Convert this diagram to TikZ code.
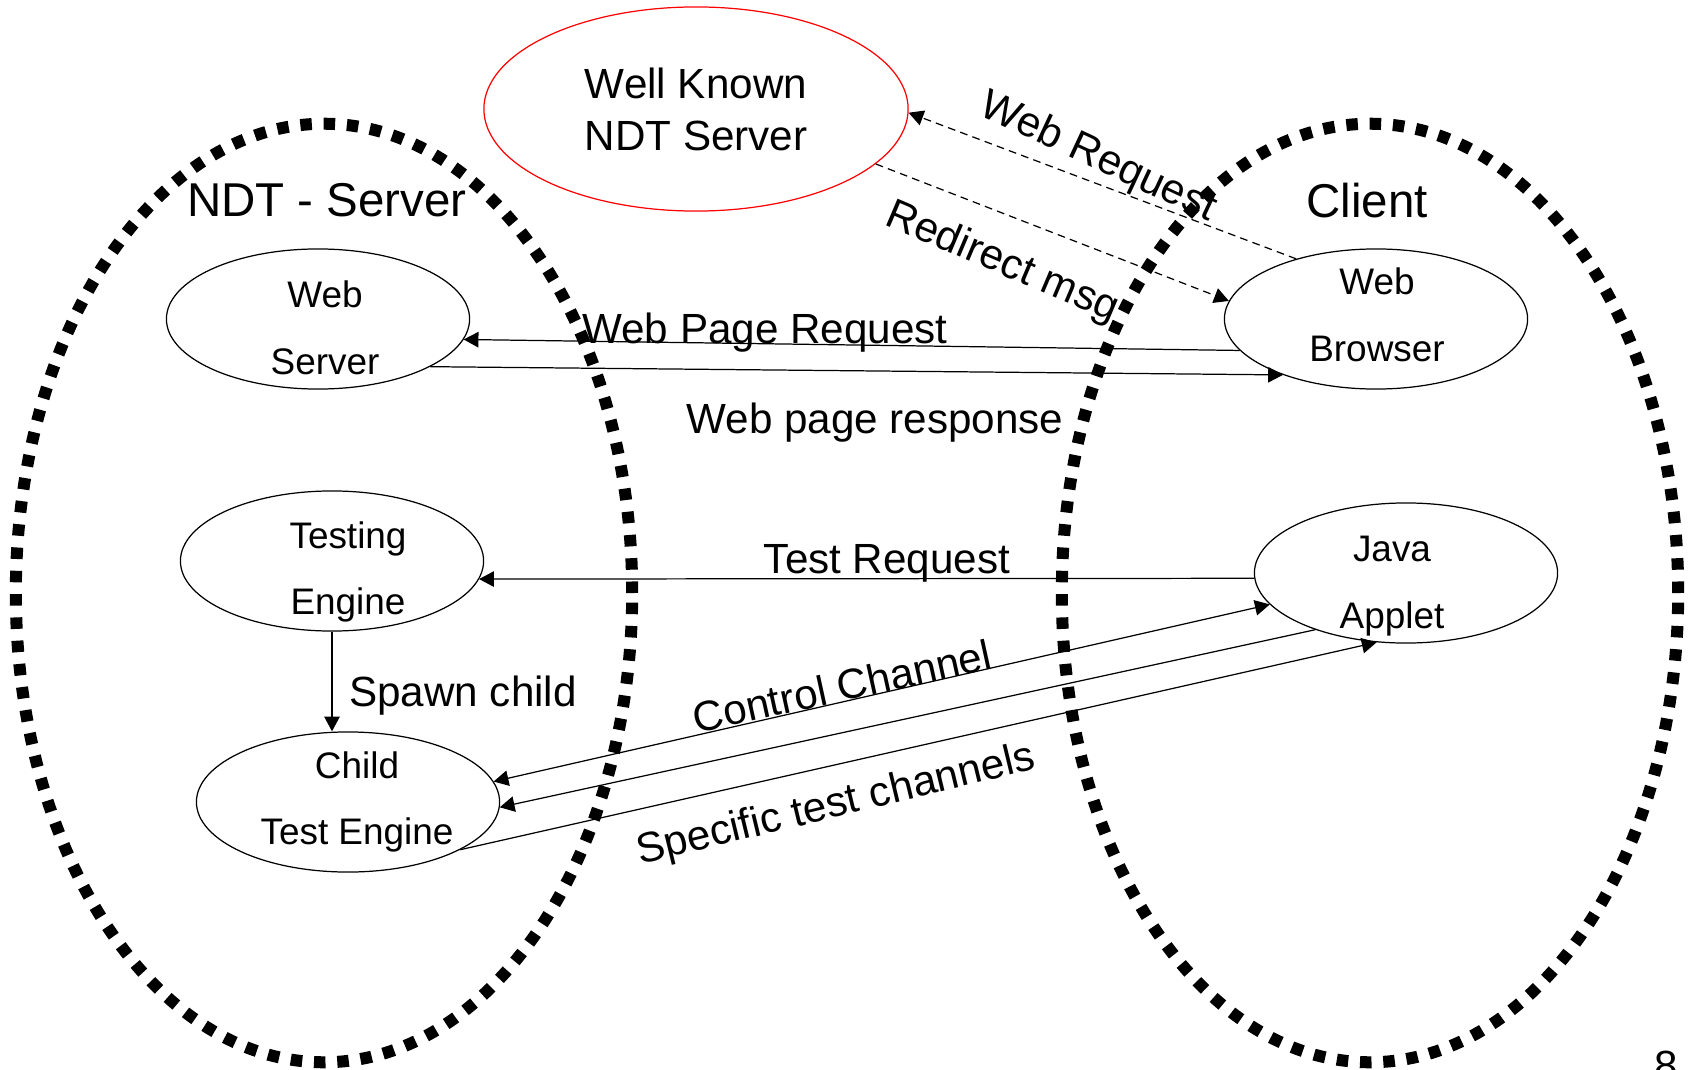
\documentclass[tikz,border=0pt]{standalone}
\usepackage{fontspec}
\setmainfont{Liberation Sans}
\usetikzlibrary{shapes, arrows.meta, positioning, calc}

\begin{document}
\begin{tikzpicture}[x=0.01cm, y=-0.01cm,
  >={Triangle[length=4.2pt, width=4.4pt]},
  zone/.style={draw, ellipse, line width=0.12cm, dash pattern=on 0.115cm off 0.118cm, minimum width=6.16cm, minimum height=9.38cm, inner sep=0pt},
  proc/.style={draw, ellipse, line width=0.35pt, minimum width=3.03cm, minimum height=1.40cm, inner sep=0pt},
  proctext/.style={inner sep=0pt, align=center, font=\fontsize{10.5}{19}\selectfont},
  msg/.style={line width=0.35pt, ->},
  msgdash/.style={msg, dash pattern=on 2.2pt off 1.5pt},
  lbl/.style={inner sep=0pt, font=\fontsize{12}{14}\selectfont},
  zonetitle/.style={inner sep=0pt, anchor=base, font=\fontsize{13.5}{16}\selectfont}]
  \useasboundingbox (0,0) rectangle (1694,1070);

  % Regions
  \node[zone] (srvzone) at (324, 593) {};
  \node[zone] (cltzone) at (1370, 593) {};
  \node[zonetitle] (srvtitle) at (327, 217) {NDT - Server};
  \node[zonetitle] (clttitle) at (1367, 218) {Client};

  % Well known server
  \node[draw=red, ellipse, line width=0.35pt, minimum width=4.24cm, minimum height=2.04cm, inner sep=0pt, align=center, font=\fontsize{12}{14.8}\selectfont] (wellknown) at (696, 109) {Well Known\\NDT Server};

  % Server side
  \node[proc] (websrv) at (318, 319) {};
  \node[proctext] (websrvtxt) at ([shift={(7,9)}]websrv.center) {Web\\Server};
  \node[proc] (testeng) at (332, 561) {};
  \node[proctext] (testengtxt) at ([shift={(16,11)}]testeng.center) {Testing\\Engine};
  \node[proc] (childeng) at (348, 802) {};
  \node[proctext] (childengtxt) at ([shift={(9,0)}]childeng.center) {Child\\Test Engine};

  % Client side
  \node[proc] (webbrw) at (1376, 319) {};
  \node[proctext] (webbrwtxt) at ([shift={(1,-4)}]webbrw.center) {Web\\Browser};
  \node[proc] (applet) at (1406, 573) {};
  \node[proctext] (applettxt) at ([shift={(-14,13)}]applet.center) {Java\\Applet};

  % Redirection
  \draw[msgdash] (webbrw.143) -- (wellknown.-1);
  \draw[msgdash] (wellknown.-17) -- (webbrw.173);
  \node[lbl, rotate=-25] (webreq) at (1098, 158) {Web Request};
  \node[lbl, rotate=-23] (redir) at (1002, 263) {Redirect msg};

  % Web page
  \draw[msg] (webbrw.193) -- (websrv.-8);
  \draw[msg] (websrv.-23) -- (webbrw.211);
  \node[lbl, anchor=base] (pagereq) at (765, 343) {Web Page Request};
  \node[lbl, anchor=base] (pageresp) at (875, 433) {Web page response};

  % Test
  \draw[msg] (applet.182) -- (testeng.-7);
  \node[lbl, anchor=base] (testreq) at (887, 573) {Test Request};
  \draw[msg] (testeng.south) -- (testeng.south |- childeng.north);
  \node[lbl, anchor=base] (spawn) at (463, 706) {Spawn child};

  % Channels
  \draw[msg, <->] (childeng.8) -- (applet.193);
  \draw[msg] (applet.212) -- (childeng.-2);
  \draw[msg] (childeng.-23) -- (applet.247);
  \node[lbl, rotate=12.4] (ctrl) at (842, 686) {Control Channel};
  \node[lbl, rotate=13.6] (spec) at (836, 806) {Specific test channels};

  \node[lbl, anchor=base] (pageno) at (1666, 1080) {8};
\end{tikzpicture}
\end{document}
